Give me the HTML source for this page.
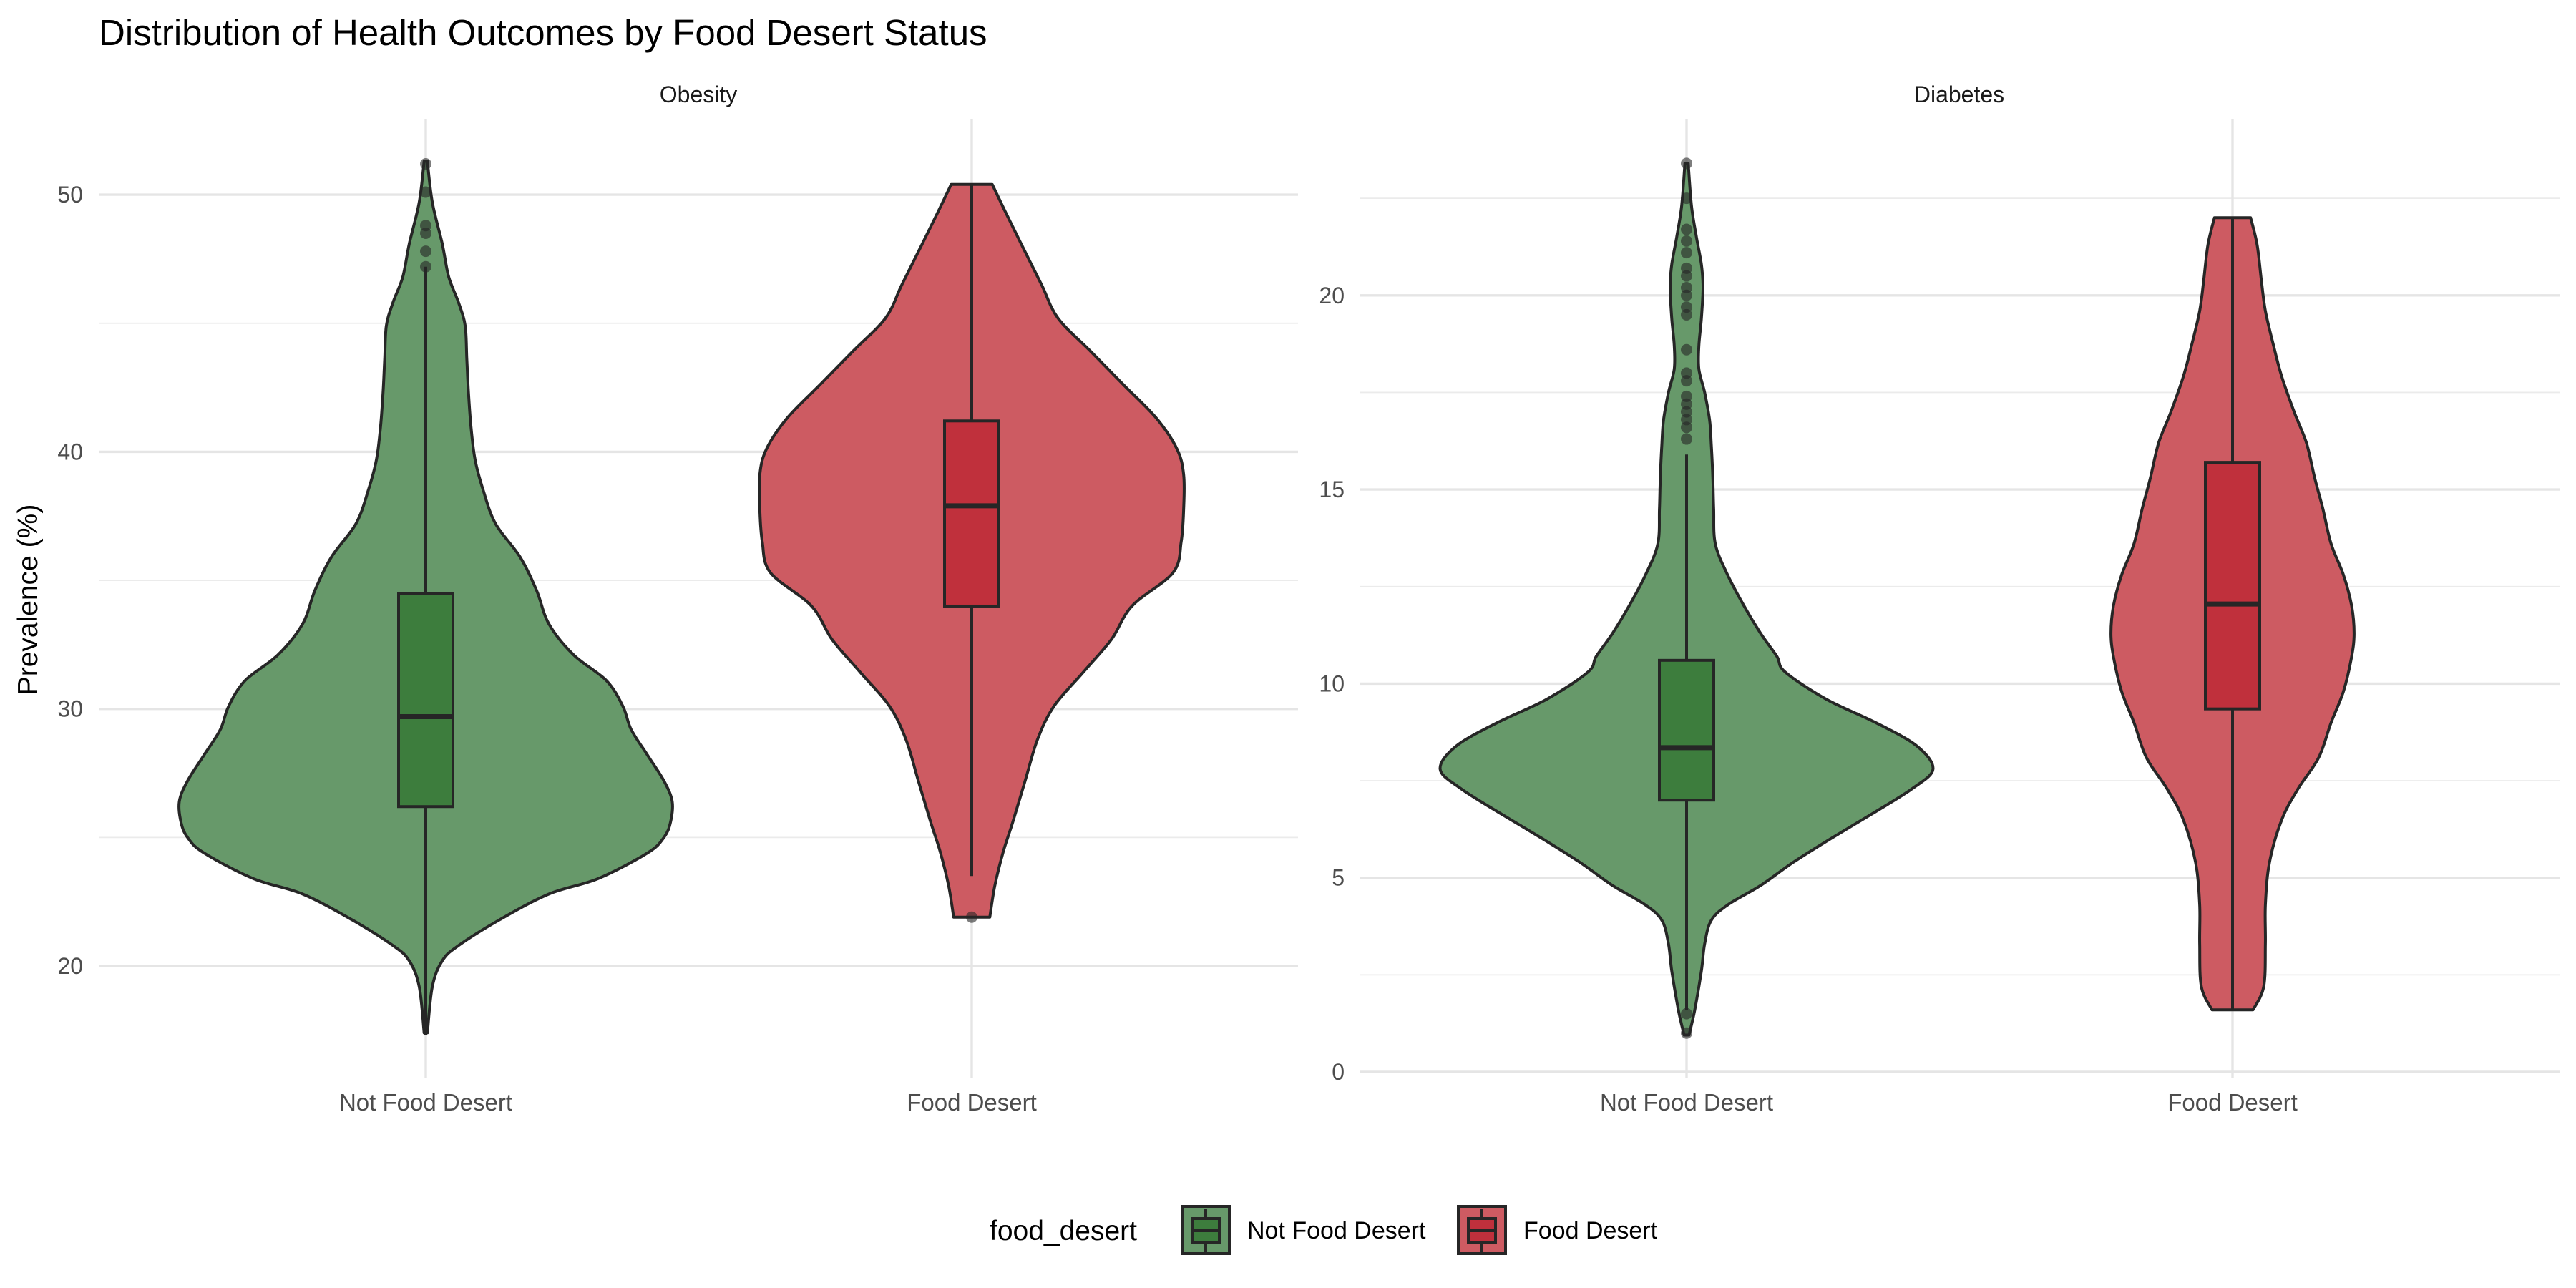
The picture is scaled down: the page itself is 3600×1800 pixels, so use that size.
<!DOCTYPE html>
<html><head><meta charset="utf-8"><style>
html,body{margin:0;padding:0;background:#fff;}
svg{display:block;font-family:"Liberation Sans",Arial,sans-serif;}
</style></head><body>
<svg id="chart" width="3600" height="1800" viewBox="0 0 3600 1800" xmlns="http://www.w3.org/2000/svg">
<text x="138" y="63" font-size="51" fill="#000">Distribution of Health Outcomes by Food Desert Status</text>
<text transform="translate(52,838) rotate(-90)" text-anchor="middle" font-size="39" fill="#000">Prevalence (%)</text>
<text x="976" y="143" text-anchor="middle" font-size="32" fill="#1a1a1a">Obesity</text>
<text x="2738" y="143" text-anchor="middle" font-size="32" fill="#1a1a1a">Diabetes</text>
<g id="grid"></g>
<g id="marks"></g>
<g>
<text x="1383" y="1733" font-size="39" fill="#000">food_desert</text>
<g>
<rect x="1652" y="1686" width="66" height="66" fill="#67996a" stroke="#262626" stroke-width="4"/>
<rect x="1666" y="1703" width="38" height="34" fill="#3d7d3d" stroke="#262626" stroke-width="4"/>
<line x1="1666" y1="1720" x2="1704" y2="1720" stroke="#262626" stroke-width="4"/>
<line x1="1685" y1="1690" x2="1685" y2="1703" stroke="#262626" stroke-width="4"/>
<line x1="1685" y1="1737" x2="1685" y2="1750" stroke="#262626" stroke-width="4"/>
</g>
<text x="1743" y="1731" font-size="34" fill="#000">Not Food Desert</text>
<g>
<rect x="2038" y="1686" width="66" height="66" fill="#cd5b62" stroke="#262626" stroke-width="4"/>
<rect x="2052" y="1703" width="38" height="34" fill="#c0303c" stroke="#262626" stroke-width="4"/>
<line x1="2052" y1="1720" x2="2090" y2="1720" stroke="#262626" stroke-width="4"/>
<line x1="2071" y1="1690" x2="2071" y2="1703" stroke="#262626" stroke-width="4"/>
<line x1="2071" y1="1737" x2="2071" y2="1750" stroke="#262626" stroke-width="4"/>
</g>
<text x="2129" y="1731" font-size="34" fill="#000">Food Desert</text>
</g>
</svg>
<script>
const categories = ["Not Food Desert", "Food Desert"];
const obesityTicks = [20, 30, 40, 50];
const obesityMinor = [25, 35, 45];
const diabetesTicks = [0, 5, 10, 15, 20];
const diabetesMinor = [2.5, 7.5, 12.5, 17.5, 22.5];

// violin profiles: value levels and relative density (half-width)
const obNfdY = [17.4,19.2,20.2,20.8,21.8,22.8,23.4,24.4,25,25.6,26.4,27.2,28.2,29.2,30.1,31.1,32.1,33.3,34.6,35.9,37.2,38.5,39.7,41,42.3,43.6,44.9,45.8,46.8,48.1,49.7,51.3];
const obNfdD = [2,8,20,40,90,150,210,270,290,298,300,290,270,250,240,220,180,150,135,115,85,70,60,55,52,50,48,40,28,20,8,2];
const obFdY = [21.9,23.1,24.4,25.6,27.2,28.8,30.1,31.4,32.7,34.0,35.3,36.5,37.8,39.1,40.1,41.3,42.6,43.9,45.2,46.5,48.1,49.4,50.4];
const obFdD = [22,28,38,50,65,80,100,135,170,195,245,255,258,258,250,225,185,145,105,85,60,40,25];
const diNfdY = [0.95,1.6,2.6,3.3,3.9,4.3,4.8,5.4,6.0,6.7,7.3,7.8,8.4,9.0,9.6,10.3,10.7,11.3,12.0,12.8,13.6,14.5,15.3,16.2,16.8,17.5,18.1,18.7,19.4,20.2,20.8,21.5,22.3,23.4];
const diNfdD = [3,10,18,22,30,50,90,130,175,230,275,300,280,230,170,120,110,90,70,50,35,33,32,30,28,22,15,15,18,20,18,12,6,2];
const diFdY = [1.6,2.2,3.3,4.3,5.4,6.5,7.3,8.1,9.0,9.8,10.7,11.3,12.0,12.8,13.6,14.5,15.3,16.2,17.0,17.9,18.7,19.6,20.4,21.3,22.0];
const diFdD = [25,38,40,40,45,60,80,105,120,135,145,148,145,135,120,110,100,90,75,60,50,40,35,30,22];

// box stats: [lowerWhisker, q1, median, q3, upperWhisker]
const obNfdBox = [17.3, 26.2, 29.7, 34.5, 47.2];
const obFdBox = [23.5, 34.0, 37.9, 41.2, 50.4];
const diNfdBox = [1.6, 7.0, 8.35, 10.6, 15.9];
const diFdBox = [1.6, 9.35, 12.05, 15.7, 22.0];
const obNfdOut = [47.2, 47.8, 48.5, 48.8, 50.1, 51.2];
const obFdOut = [21.9];
const diNfdOut = [1.0, 1.5, 16.3, 16.6, 16.8, 17.0, 17.2, 17.4, 17.8, 18.0, 18.6, 19.5, 19.7, 20.0, 20.2, 20.5, 20.7, 21.1, 21.4, 21.7, 22.5, 23.4];
const diFdOut = [];

const NS = "http://www.w3.org/2000/svg";
function mk(tag, attrs, parent){const e=document.createElementNS(NS,tag);for(const k in attrs)e.setAttribute(k,attrs[k]);parent.appendChild(e);return e;}
const grid=document.getElementById('grid'), marks=document.getElementById('marks');

function smoothSide(pts){ // Catmull-Rom through pts, returns path segment commands (without initial M)
  let d='';
  for(let i=0;i<pts.length-1;i++){
    const p0=pts[Math.max(i-1,0)],p1=pts[i],p2=pts[i+1],p3=pts[Math.min(i+2,pts.length-1)];
    const c1=[p1[0]+(p2[0]-p0[0])/6,p1[1]+(p2[1]-p0[1])/6];
    const c2=[p2[0]-(p3[0]-p1[0])/6,p2[1]-(p3[1]-p1[1])/6];
    d+=' C'+c1[0].toFixed(1)+','+c1[1].toFixed(1)+' '+c2[0].toFixed(1)+','+c2[1].toFixed(1)+' '+p2[0].toFixed(1)+','+p2[1].toFixed(1);
  }
  return d;
}

const panels=[
 {name:'obesity', x0:138, x1:1814, yscale:v=>1350-(v-20)*35.93, xc:[595,1358], ticks:obesityTicks, minor:obesityMinor,
  series:[{y:obNfdY,d:obNfdD,box:obNfdBox,out:obNfdOut},{y:obFdY,d:obFdD,box:obFdBox,out:obFdOut}]},
 {name:'diabetes', x0:1901, x1:3577, yscale:v=>1498-v*54.26, xc:[2357,3120], ticks:diabetesTicks, minor:diabetesMinor,
  series:[{y:diNfdY,d:diNfdD,box:diNfdBox,out:diNfdOut},{y:diFdY,d:diFdD,box:diFdBox,out:diFdOut}]}
];
const fills=['#67996a','#cd5b62'], boxFills=['#3d7d3d','#c0303c'], keys=['not-food-desert','food-desert'];
const dScale=1.148;

panels.forEach(p=>{
  p.minor.forEach(v=>{const l=mk('line',{x1:p.x0,x2:p.x1,y1:p.yscale(v),y2:p.yscale(v),stroke:'#ebebeb','stroke-width':1.8},grid);
    
    });
  p.ticks.forEach(v=>{const y=p.yscale(v);
    const l=mk('line',{x1:p.x0,x2:p.x1,y1:y,y2:y,stroke:'#e5e5e5','stroke-width':3.4},grid);
    
    
    const t=mk('text',{x:p.x0-22,y:y+11,'text-anchor':'end','font-size':32,fill:'#4d4d4d'},grid);t.textContent=v;
    
    });
  p.xc.forEach((x,i)=>{
    const l=mk('line',{x1:x,x2:x,y1:166,y2:1506,stroke:'#e5e5e5','stroke-width':3.4},grid);
    
    
    const t=mk('text',{x:x,y:1552,'text-anchor':'middle','font-size':33,fill:'#4d4d4d'},grid);t.textContent=categories[i];
    
    
    const s=p.series[i];
    const right=[],left=[];
    for(let k=0;k<s.y.length;k++)right.push([x+s.d[k]*dScale,p.yscale(s.y[k])]);
    for(let k=s.y.length-1;k>=0;k--)left.push([x-s.d[k]*dScale,p.yscale(s.y[k])]);
    const d='M'+right[0][0].toFixed(1)+','+right[0][1].toFixed(1)+smoothSide(right)+' L'+left[0][0].toFixed(1)+','+left[0][1].toFixed(1)+smoothSide(left)+' Z';
    const v=mk('path',{d:d,fill:fills[i],stroke:'#262626','stroke-width':4,'stroke-linejoin':'round'},marks);
    
    
    const b=s.box, bw=38;
    const w=mk('line',{x1:x,x2:x,y1:p.yscale(b[0]),y2:p.yscale(b[4]),stroke:'#262626','stroke-width':4},marks);
    
    
    const r=mk('rect',{x:x-bw,y:p.yscale(b[3]),width:2*bw,height:p.yscale(b[1])-p.yscale(b[3]),fill:boxFills[i],stroke:'#262626','stroke-width':4},marks);
    
    
    const m=mk('line',{x1:x-bw,x2:x+bw,y1:p.yscale(b[2]),y2:p.yscale(b[2]),stroke:'#262626','stroke-width':7},marks);
    
    
    s.out.forEach(o=>{const c=mk('circle',{cx:x,cy:p.yscale(o),r:8,fill:'#262626','fill-opacity':0.6},marks);
      
      });
  });
});
</script>
</body></html>
